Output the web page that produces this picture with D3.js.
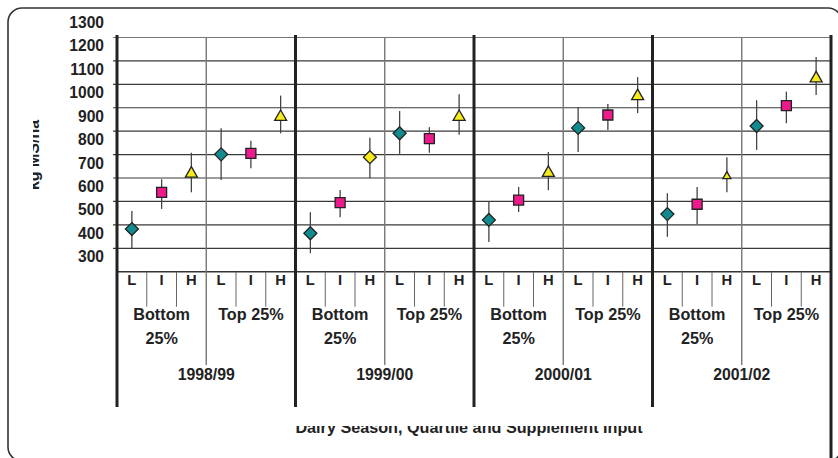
<!DOCTYPE html>
<html>
<head>
<meta charset="utf-8">
<script src="https://cdn.jsdelivr.net/npm/d3@7"></script>
<style>
  html, body { margin: 0; padding: 0; background: #fff; }
  svg { display: block; }
  text { font-family: "Liberation Sans", Arial, sans-serif; font-weight: bold; fill: #222; }
</style>
</head>
<body>
<svg id="chart" width="838" height="458"></svg>
<script>
// Dairy seasons and the sub-groups inside each season
const seasons = ["1998/99", "1999/00", "2000/01", "2001/02"];
const quartiles = ["Bottom 25%", "Top 25%"];
const inputs = ["L", "I", "H"];

// Mean production (kg MS/ha) per season: Bottom L, I, H, then Top L, I, H
const meanValues = [
  [382, 539, 623, 701, 705, 865],
  [364, 495, 689, 791, 768, 865],
  [421, 506, 626, 814, 869, 954],
  [446, 488, 610, 822, 909, 1030]
];
// Upper and lower ends of the range bars
const upperValues = [
  [459, 595, 708, 812, 759, 952],
  [454, 549, 772, 886, 817, 958],
  [502, 562, 711, 903, 916, 1031],
  [535, 562, 689, 932, 969, 1117]
];
const lowerValues = [
  [297, 468, 539, 592, 642, 791],
  [279, 432, 599, 703, 708, 785],
  [327, 455, 548, 711, 805, 877],
  [349, 404, 539, 720, 834, 955]
];
// Marker used for each point
const markerShapes = [
  ["diamond", "square", "triangle", "diamond", "square", "triangle"],
  ["diamond", "square", "diamondY", "diamond", "square", "triangle"],
  ["diamond", "square", "triangle", "diamond", "square", "triangle"],
  ["diamond", "square", "triangleS", "diamond", "square", "triangle"]
];

const gridValues = [300, 400, 500, 600, 700, 800, 900, 1000, 1100, 1200];
const tickLabels = [300, 400, 500, 600, 700, 800, 900, 1000, 1100, 1200, 1300];

const svg = d3.select("#chart");

// outer frame
svg.append("rect")
  .attr("x", 8).attr("y", 8).attr("width", 834).attr("height", 453)
  .attr("rx", 14).attr("ry", 14)
  .attr("fill", "none").attr("stroke", "#333").attr("stroke-width", 1.6);

const plot = { left: 117, right: 831, top: 37.5, bottom: 271.7 };

const y = d3.scaleLinear().domain([200, 1200]).range([plot.bottom, plot.top]);
const xSeason = d3.scaleBand().domain(seasons).range([plot.left, plot.right]).padding(0);
const slots = d3.range(6);
const xSlot = d3.scaleBand().domain(slots).range([0, xSeason.bandwidth()]).padding(0);
const xHalf = d3.scaleBand().domain(quartiles).range([0, xSeason.bandwidth()]).padding(0);

// horizontal gridlines
svg.append("g").selectAll("line").data(gridValues).join("line")
  .attr("x1", plot.left - 4).attr("x2", plot.right)
  .attr("y1", d => y(d)).attr("y2", d => y(d))
  .attr("stroke", d => d === 1200 ? "#777" : "#3a3a3a").attr("stroke-width", 1.2);

// y tick labels
svg.append("g").selectAll("text").data(tickLabels).join("text")
  .attr("x", 104).attr("y", d => y(d) + 8.5)
  .attr("dy", "0.35em")
  .attr("text-anchor", "end")
  .attr("font-size", "15.6px")
  .text(d => d);

// x axis baseline
svg.append("line")
  .attr("x1", plot.left).attr("x2", plot.right)
  .attr("y1", plot.bottom).attr("y2", plot.bottom)
  .attr("stroke", "#333").attr("stroke-width", 1.4);

const seasonG = svg.append("g").selectAll("g").data(seasons).join("g")
  .attr("transform", d => `translate(${xSeason(d)},0)`);

// separators between L | I | H inside each quartile
seasonG.each(function() {
  const g = d3.select(this);
  [1, 2, 4, 5].forEach(i => {
    g.append("line")
      .attr("x1", xSlot(i)).attr("x2", xSlot(i))
      .attr("y1", plot.bottom).attr("y2", 306.7)
      .attr("stroke", "#666").attr("stroke-width", 1);
  });
  // divider between quartiles
  g.append("line")
    .attr("x1", xSlot(3)).attr("x2", xSlot(3))
    .attr("y1", plot.top).attr("y2", 365)
    .attr("stroke", "#777").attr("stroke-width", 1.4);
});

// season boundaries
seasons.forEach(s => {
  svg.append("line")
    .attr("x1", xSeason(s)).attr("x2", xSeason(s))
    .attr("y1", 35).attr("y2", 407)
    .attr("stroke", "#222").attr("stroke-width", 3);
});
svg.append("line")
  .attr("x1", plot.right).attr("x2", plot.right)
  .attr("y1", 35).attr("y2", 460)
  .attr("stroke", "#222").attr("stroke-width", 3);

// category labels
seasonG.each(function(season) {
  const g = d3.select(this);
  slots.forEach(i => {
    g.append("text")
      .attr("x", xSlot(i) + xSlot.bandwidth() / 2)
      .attr("y", 285)
      .attr("text-anchor", "middle")
      .attr("font-size", "14.8px")
      .text(inputs[i % 3]);
  });
  quartiles.forEach(q => {
    const t = g.append("text")
      .attr("x", xHalf(q) + xHalf.bandwidth() / 2)
      .attr("y", 319.5)
      .attr("text-anchor", "middle")
      .attr("font-size", "16.2px");
    const words = q.startsWith("Bottom") ? ["Bottom", "25%"] : [q];
    words.forEach((w, k) => {
      t.append("tspan")
        .attr("x", xHalf(q) + xHalf.bandwidth() / 2)
        .attr("dy", k === 0 ? 0 : 24)
        .text(w);
    });
  });
  g.append("text")
    .attr("x", xSeason.bandwidth() / 2)
    .attr("y", 380)
    .attr("text-anchor", "middle")
    .attr("font-size", "15.8px")
    .text(season);
});

// range bars
seasonG.each(function(season, si) {
  const g = d3.select(this);
  g.selectAll("line.bar").data(slots).join("line")
    .attr("class", "bar")
    .attr("x1", i => xSlot(i) + xSlot.bandwidth() / 2)
    .attr("x2", i => xSlot(i) + xSlot.bandwidth() / 2)
    .attr("y1", i => y(upperValues[si][i]))
    .attr("y2", i => y(lowerValues[si][i]))
    .attr("stroke", "#444").attr("stroke-width", 1.3);
});

// markers
function markerPath(shape) {
  switch (shape) {
    case "diamond":
    case "diamondY":
      return "M0,-6.5L6.5,0L0,6.5L-6.5,0Z";
    case "square":
      return "M-5,-5H5V5H-5Z";
    case "triangle":
      return "M0,-6L6,4.5H-6Z";
    case "triangleS":
      return "M0,-4L4,3H-4Z";
  }
}
const markerFill = {
  diamond: "#118b8d",
  diamondY: "#f7ec1b",
  square: "#ec1a8a",
  triangle: "#f7ec1b",
  triangleS: "#f7ec1b"
};

seasonG.each(function(season, si) {
  const g = d3.select(this);
  g.selectAll("path.mark").data(slots).join("path")
    .attr("class", "mark")
    .attr("transform", i => `translate(${xSlot(i) + xSlot.bandwidth() / 2},${y(meanValues[si][i])})`)
    .attr("d", i => markerPath(markerShapes[si][i]))
    .attr("fill", i => markerFill[markerShapes[si][i]])
    .attr("stroke", "#222").attr("stroke-width", 1.3);
});

// axis titles, partly cut off
const defs = svg.append("defs");
defs.append("clipPath").attr("id", "clipY")
  .append("rect").attr("x", 33).attr("y", 0).attr("width", 40).attr("height", 458);
defs.append("clipPath").attr("id", "clipX")
  .append("rect").attr("x", 0).attr("y", 426).attr("width", 838).attr("height", 32);

svg.append("g").attr("clip-path", "url(#clipY)")
  .append("text")
  .attr("transform", "translate(38.5,155) rotate(-90)")
  .attr("text-anchor", "middle")
  .attr("font-size", "16px")
  .text("kg MS/ha");

svg.append("g").attr("clip-path", "url(#clipX)")
  .append("text")
  .attr("x", 469).attr("y", 433)
  .attr("text-anchor", "middle")
  .attr("font-size", "16.2px")
  .text("Dairy Season, Quartile and Supplement Input");
</script>
</body>
</html>
